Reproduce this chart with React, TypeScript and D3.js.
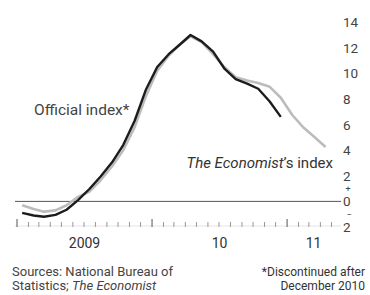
import React from "react";
import * as d3 from "d3";

const officialMonths = [
  "2009-01", "2009-02", "2009-03", "2009-04", "2009-05", "2009-06",
  "2009-07", "2009-08", "2009-09", "2009-10", "2009-11", "2009-12",
  "2010-01", "2010-02", "2010-03", "2010-04", "2010-05", "2010-06",
  "2010-07", "2010-08", "2010-09", "2010-10", "2010-11", "2010-12",
];
const officialValues = [
  -0.9, -1.1, -1.2, -1.05, -0.65, 0.1, 0.95, 1.95, 3.05, 4.4, 6.3, 8.7,
  10.5, 11.5, 12.2, 13.0, 12.5, 11.7, 10.4, 9.55, 9.2, 8.8, 7.8, 6.6,
];
const economistMonths = [
  ...officialMonths,
  "2011-01", "2011-02", "2011-03", "2011-04",
];
const economistValues = [
  -0.3, -0.6, -0.8, -0.7, -0.3, 0.35, 0.75, 1.65, 2.75, 4.0, 5.8, 8.2,
  10.2, 11.4, 12.2, 12.9, 12.45, 11.5, 10.5, 9.7, 9.45, 9.25, 8.95, 8.1,
  6.75, 5.75, 5.05, 4.25,
];
const yTicks = [14, 12, 10, 8, 6, 4, 2, 0, -2];
const yearLabels = ["2009", "10", "11"];
const yearStarts = ["2009-01-01", "2010-01-01", "2011-01-01"];
const xDomainEnd = "2011-05-24";

const FONT = "Roboto, 'Open Sans', sans-serif";

function mid(m: string) {
  return new Date(m + "-15T00:00:00");
}

export default function App() {
  const W = 370;
  const H = 295;
  const x = d3
    .scaleTime()
    .domain([new Date(yearStarts[0] + "T00:00:00"), new Date(xDomainEnd + "T00:00:00")])
    .range([17, 340]);
  const y = d3.scaleLinear().domain([-2, 14]).range([227, 22.2]);

  const official = officialMonths.map((m, i) => ({ d: mid(m), v: officialValues[i] }));
  const economist = economistMonths.map((m, i) => ({ d: mid(m), v: economistValues[i] }));

  const line = d3
    .line<{ d: Date; v: number }>()
    .x((p) => x(p.d))
    .y((p) => y(p.v))
    .curve(d3.curveLinear);

  const monthTicks = d3.timeMonth.range(x.domain()[0], x.domain()[1]);
  const yearStartDates = yearStarts.map((s) => new Date(s + "T00:00:00"));
  const yearEnds = [yearStartDates[1], yearStartDates[2], x.domain()[1]];

  const axisY = y(-2) - 1;

  return (
    <svg
      width={W}
      height={H}
      style={{ position: "absolute", left: 0, top: 0, background: "#fff" }}
    >
      {/* zero line */}
      <line x1={15} x2={341} y1={y(0)} y2={y(0)} stroke="#555" strokeWidth={1} />
      {/* bottom axis ticks */}
      <line x1={15} x2={341} y1={axisY} y2={axisY} stroke="#ddd" strokeWidth={0.8} />
      {monthTicks.map((t, i) => {
        const isYear = t.getMonth() === 0;
        return (
          <line
            key={i}
            x1={x(t)}
            x2={x(t)}
            y1={isYear ? axisY - 7 : axisY - 4}
            y2={axisY + 1}
            stroke={isYear ? "#555" : "#999"}
            strokeWidth={1}
          />
        );
      })}
      {/* lines */}
      <path d={line(economist) || ""} fill="none" stroke="#bcbcbc" strokeWidth={2.6} strokeLinejoin="round" />
      <path d={line(official) || ""} fill="none" stroke="#1c1c1c" strokeWidth={2.4} strokeLinejoin="round" />
      {/* y labels */}
      {yTicks.map((v) => (
        <text
          key={v}
          x={343}
          y={y(v) + 5}
          fontFamily={FONT}
          fontSize={13.5}
          fill="#444"
        >
          {Math.abs(v)}
        </text>
      ))}
      <text x={345.5} y={y(0) - 9} fontFamily={FONT} fontSize={9} fill="#444">+</text>
      <text x={346.5} y={y(-2) - 9} fontFamily={FONT} fontSize={9} fill="#444">−</text>
      {/* x labels */}
      {yearLabels.map((lab, i) => (
        <text
          key={lab}
          x={(x(yearStartDates[i]) + x(yearEnds[i])) / 2}
          y={248}
          textAnchor="middle"
          fontFamily={FONT}
          fontSize={14}
          fill="#333"
        >
          {lab}
        </text>
      ))}
      {/* annotations */}
      <text x={34} y={115} fontFamily={FONT} fontSize={15.5} fill="#444">
        Official index*
      </text>
      <text x={333} y={168} textAnchor="end" fontFamily={FONT} fontSize={15} fill="#333">
        <tspan fontStyle="italic">The Economist</tspan>
        <tspan>’s index</tspan>
      </text>
      {/* footer */}
      <text x={12} y={276} fontFamily={FONT} fontSize={13} fill="#444">
        Sources: National Bureau of
      </text>
      <text x={12} y={290} fontFamily={FONT} fontSize={13} fill="#444">
        Statistics; <tspan fontStyle="italic">The Economist</tspan>
      </text>
      <text x={365} y={276} textAnchor="end" fontFamily={FONT} fontSize={12} fill="#333">
        *Discontinued after
      </text>
      <text x={365} y={290} textAnchor="end" fontFamily={FONT} fontSize={12} fill="#333">
        December 2010
      </text>
    </svg>
  );
}
